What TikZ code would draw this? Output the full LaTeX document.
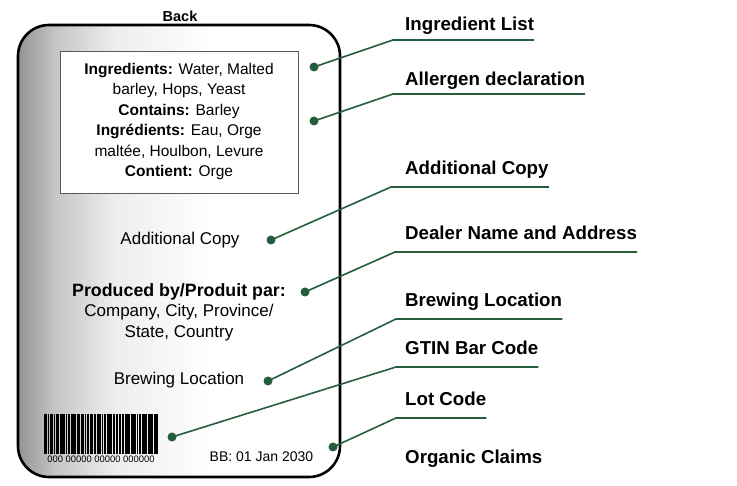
\documentclass[tikz,border=0pt]{standalone}
\usepackage{fontspec}
\setmainfont{Liberation Sans}
\definecolor{leafgreen}{RGB}{36,94,60}
\pgfdeclarehorizontalshading{cardshade}{100bp}{color(0bp)=(black!42); color(25bp)=(black!42); color(31bp)=(black!22); color(40bp)=(black!7); color(55bp)=(white); color(100bp)=(white)}
\tikzset{
  dot/.style={circle,fill=leafgreen,inner sep=0pt,minimum size=9pt},
  leader/.style={draw=leafgreen,line width=1.6pt},
  lbl/.style={anchor=base west,inner sep=0pt,font=\fontsize{18.7}{20}\selectfont\bfseries},
  cardtxt/.style={inner sep=0pt,align=center,font=\fontsize{17}{20.5}\selectfont}
}
\begin{document}
\begin{tikzpicture}[x=1pt,y=-1pt]
\useasboundingbox (0,0) rectangle (737,486);
% card
\shade[shading=cardshade,rounded corners=31pt] (18,25) rectangle (340,477);
\draw[line width=2.6pt,rounded corners=31pt] (18,25) rectangle (340,477);
\node[inner sep=0pt,anchor=base,font=\fontsize{14.5}{16}\selectfont\bfseries] (back) at (180,22) {Back};
% inner box
\draw[draw=black!65,line width=0.9pt,fill=white] (60,51) rectangle (298,193);
\node[inner sep=0pt,align=center,font=\fontsize{15.5}{20.5}\selectfont] (ingr) at (179,121.5)
  {\textbf{Ingredients:} Water, Malted\\ barley, Hops, Yeast\\ \textbf{Contains:} Barley\\ \textbf{Ingrédients:} Eau, Orge\\ maltée, Houlbon, Levure\\ \textbf{Contient:} Orge};
\node[cardtxt] (addl) at (180,240) {Additional Copy};
\node[cardtxt] (prod) at (179,312) {{\fontsize{17.8}{20.5}\selectfont\textbf{Produced by/Produit par:}}\\ Company, City, Province/\\ State, Country};
\node[cardtxt] (brew) at (179,380) {Brewing Location};
% barcode
\foreach \x/\w in {44/2.5,47.5/1.5,50/2.5,53.5/1.5,56/3,60/1.5,62/2.5,65.5/1.5,67.5/2.5,71/1.5,73/3,77/1.5,79/1,81/2.5,84.5/1.5,86.5/2.5,90/3,94/1.5,96.5/1,98/2.5,101.5/1.5,103.5/2.5,107/1.5,109/3,113/1.5,115.5/2.5,119/1.5,121.5/2.5,125/1.5,127/3,131/1.5,133/2.5,136.5/1.5,138.5/2.5,142/1.5,144/3,148/1.5,150/2.5,153.5/1,155/3}
  \fill[black] (\x,414) rectangle ++(\w,40);
\node[inner sep=0pt,font=\fontsize{9.4}{10}\selectfont] (digits) at (101,459) {000 00000 00000 000000};
\node[inner sep=0pt,font=\fontsize{14}{16}\selectfont] (bb) at (261.5,457) {BB: 01 Jan 2030};
% labels
\node[lbl] (l1) at (405,31) {Ingredient List};
\node[lbl] (l2) at (405,86) {Allergen declaration};
\node[lbl] (l3) at (405,175) {Additional Copy};
\node[lbl] (l4) at (405,240) {Dealer Name and Address};
\node[lbl] (l5) at (405,307) {Brewing Location};
\node[lbl] (l6) at (405,355) {GTIN Bar Code};
\node[lbl] (l7) at (405,406) {Lot Code};
\node[lbl] (l8) at (405,464) {Organic Claims};
% dots
\node[dot] (d1) at (314,67) {};
\node[dot] (d2) at (314,121) {};
\node[dot] (d3) at (271,240) {};
\node[dot] (d4) at (305,292) {};
\node[dot] (d5) at (268,381) {};
\node[dot] (d6) at (172,437) {};
\node[dot] (d7) at (333,447) {};
% bends
\coordinate (b1) at (393,40);
\coordinate (b2) at (393,94);
\coordinate (b3) at (391,187);
\coordinate (b4) at (395,252);
\coordinate (b5) at (396,319);
\coordinate (b6) at (396,367);
\coordinate (b7) at (396,418);
% leaders
\draw[leader] (d1.center) -- (b1) -- (b1 -| l1.east);
\draw[leader] (d2.center) -- (b2) -- (b2 -| l2.east);
\draw[leader] (d3.center) -- (b3) -- (b3 -| l3.east);
\draw[leader] (d4.center) -- (b4) -- (b4 -| l4.east);
\draw[leader] (d5.center) -- (b5) -- (b5 -| l5.east);
\draw[leader] (d6.center) -- (b6) -- (b6 -| l6.east);
\draw[leader] (d7.center) -- (b7) -- (b7 -| l7.east);
\end{tikzpicture}
\end{document}
